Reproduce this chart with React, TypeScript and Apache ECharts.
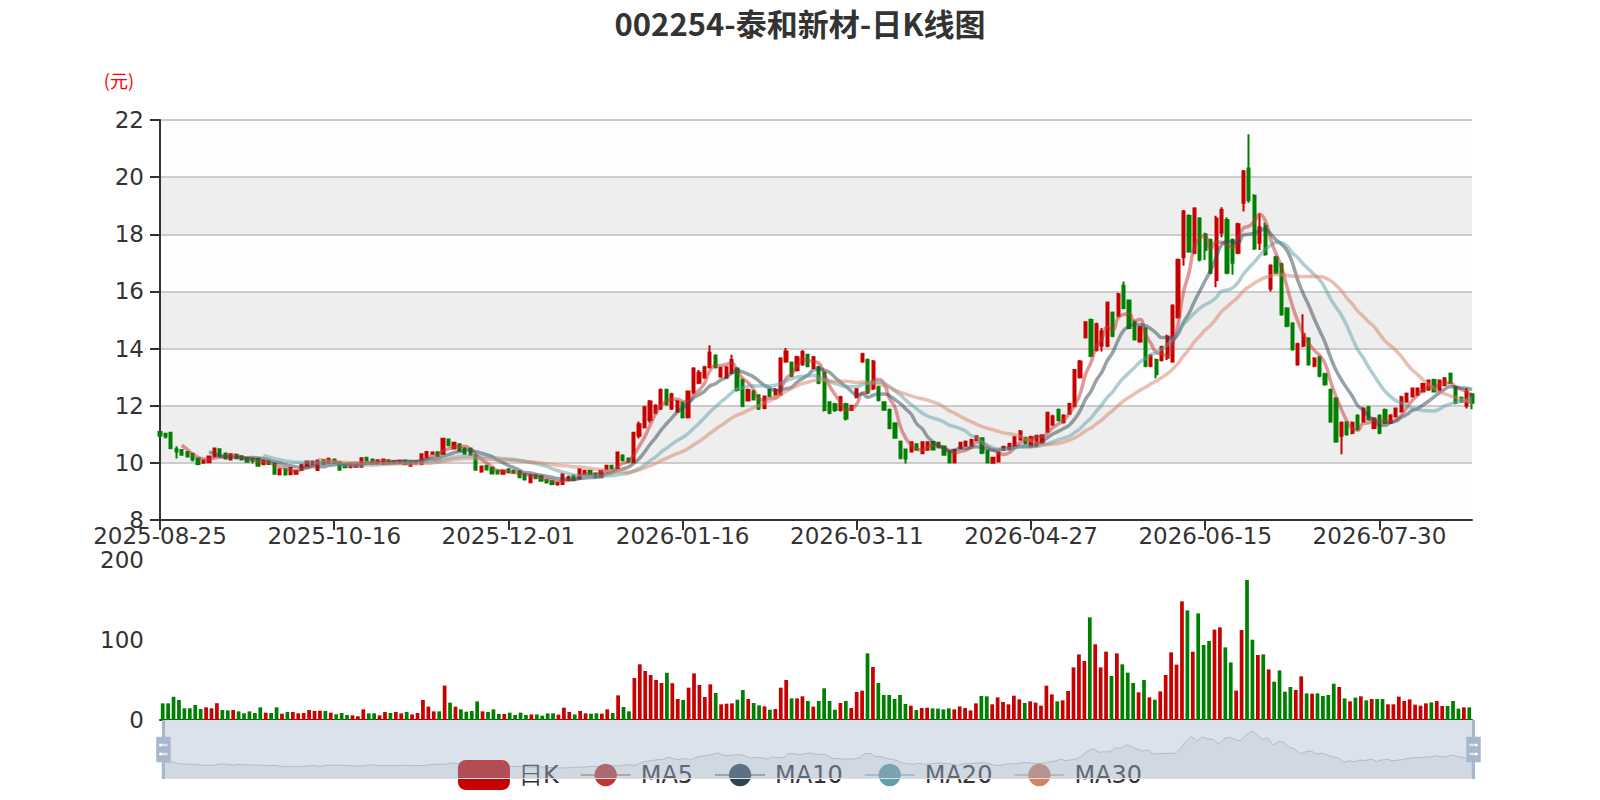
import React, { useEffect, useRef } from 'react';
import * as echarts from 'echarts';

// Trading-day calendar (weekdays minus exchange holidays)
const startDate = '2025-08-25';
const endDate = '2026-08-24';
const holidays = [
  '2025-10-01', '2025-10-02', '2025-10-03', '2025-10-06', '2025-10-07', '2025-10-08',
  '2026-01-01', '2026-01-02',
  '2026-02-16', '2026-02-17', '2026-02-18', '2026-02-19', '2026-02-20', '2026-02-23',
  '2026-04-06',
  '2026-05-01', '2026-05-04', '2026-05-05',
  '2026-06-19',
];

function buildCategories(start: string, end: string, skip: string[]): string[] {
  const out: string[] = [];
  const d = new Date(start + 'T00:00:00Z');
  const last = new Date(end + 'T00:00:00Z');
  while (d.getTime() <= last.getTime()) {
    const wd = d.getUTCDay();
    const s = d.toISOString().slice(0, 10);
    if (wd !== 0 && wd !== 6 && skip.indexOf(s) < 0) out.push(s);
    d.setUTCDate(d.getUTCDate() + 1);
  }
  return out;
}

const categories = buildCategories(startDate, endDate, holidays);

// [open, close, low, high]
const ohlc: number[][] = [
  [11.08, 10.96, 10.9, 11.1], [11.02, 10.92, 10.85, 11.05], [11.05, 10.52, 10.48, 11.08], [10.48, 10.4, 10.15, 10.58],
  [10.45, 10.28, 10.25, 10.47], [10.38, 10.22, 10.2, 10.4], [10.32, 10.12, 10.05, 10.35], [10.15, 9.96, 9.92, 10.18],
  [10.0, 10.08, 9.98, 10.1], [10.02, 10.22, 10.0, 10.25], [10.22, 10.5, 10.2, 10.52], [10.48, 10.22, 10.2, 10.5],
  [10.33, 10.15, 10.12, 10.36], [10.12, 10.3, 10.1, 10.32], [10.28, 10.16, 10.14, 10.3], [10.23, 10.12, 10.1, 10.25],
  [10.16, 10.04, 10.0, 10.18], [10.14, 10.07, 9.98, 10.16], [10.14, 9.9, 9.88, 10.16], [9.95, 10.08, 9.93, 10.1],
  [10.05, 9.96, 9.94, 10.08], [9.98, 9.62, 9.58, 10.0], [9.6, 9.78, 9.56, 9.8], [9.78, 9.6, 9.55, 9.8],
  [9.6, 9.82, 9.58, 9.85], [9.62, 9.72, 9.58, 9.75], [9.75, 9.93, 9.73, 9.95], [9.9, 10.05, 9.88, 10.08],
  [9.96, 10.05, 9.94, 10.07], [9.75, 10.08, 9.72, 10.1], [10.1, 9.96, 9.94, 10.12], [10.0, 10.14, 9.98, 10.16],
  [10.12, 10.0, 9.98, 10.14], [10.02, 9.76, 9.74, 10.04], [9.93, 9.85, 9.83, 9.95], [9.85, 9.93, 9.83, 9.95],
  [9.86, 9.94, 9.84, 9.96], [9.86, 10.16, 9.84, 10.18], [10.18, 10.08, 10.05, 10.2], [10.12, 9.98, 9.96, 10.14],
  [9.98, 10.09, 9.96, 10.1], [9.96, 10.12, 9.94, 10.14], [10.09, 9.98, 9.96, 10.1], [9.98, 10.06, 9.96, 10.08],
  [9.99, 10.07, 9.97, 10.08], [10.08, 9.96, 9.94, 10.1], [9.9, 10.05, 9.88, 10.06], [9.98, 10.06, 9.96, 10.08],
  [9.96, 10.3, 9.94, 10.32], [10.2, 10.38, 10.18, 10.4], [10.32, 10.36, 10.3, 10.4], [10.37, 10.25, 10.22, 10.4],
  [10.32, 10.84, 10.3, 10.88], [10.82, 10.62, 10.58, 10.85], [10.5, 10.7, 10.48, 10.72], [10.65, 10.42, 10.4, 10.68],
  [10.5, 10.32, 10.3, 10.55], [10.5, 10.28, 10.25, 10.52], [10.27, 9.76, 9.72, 10.3], [9.7, 9.87, 9.65, 9.9],
  [9.9, 9.77, 9.75, 9.92], [9.83, 9.63, 9.6, 9.85], [9.72, 9.63, 9.6, 9.74], [9.62, 9.72, 9.6, 9.74],
  [9.78, 9.67, 9.65, 9.8], [9.72, 9.66, 9.62, 9.74], [9.7, 9.5, 9.47, 9.72], [9.6, 9.42, 9.38, 9.62],
  [9.32, 9.57, 9.3, 9.6], [9.57, 9.46, 9.44, 9.6], [9.53, 9.37, 9.34, 9.55], [9.4, 9.31, 9.28, 9.42],
  [9.36, 9.26, 9.22, 9.38], [9.25, 9.3, 9.2, 9.32], [9.26, 9.6, 9.24, 9.62], [9.4, 9.5, 9.38, 9.56],
  [9.55, 9.4, 9.38, 9.58], [9.45, 9.78, 9.43, 9.8], [9.6, 9.72, 9.58, 9.75], [9.72, 9.6, 9.58, 9.75],
  [9.63, 9.5, 9.47, 9.65], [9.5, 9.72, 9.48, 9.75], [9.78, 9.9, 9.75, 9.92], [9.9, 9.8, 9.77, 9.92],
  [9.82, 10.36, 9.8, 10.38], [10.25, 10.1, 10.05, 10.3], [10.15, 10.04, 10.0, 10.18], [10.02, 11.05, 10.0, 11.06],
  [10.95, 11.35, 10.85, 11.45], [11.25, 11.95, 11.2, 12.0], [11.5, 12.15, 11.4, 12.2], [11.75, 12.0, 11.7, 12.05],
  [11.9, 12.55, 11.85, 12.6], [12.55, 12.05, 12.0, 12.6], [11.9, 12.4, 11.85, 12.45], [11.8, 12.15, 11.75, 12.2],
  [12.1, 11.6, 11.55, 12.15], [11.6, 12.5, 11.55, 12.52], [12.46, 13.3, 12.4, 13.35], [12.8, 13.15, 12.75, 13.25],
  [12.98, 13.35, 12.95, 13.4], [13.35, 13.85, 13.3, 14.12], [13.75, 13.35, 13.3, 13.8], [13.02, 13.32, 12.98, 13.36],
  [12.98, 13.35, 12.95, 13.38], [13.15, 13.6, 13.1, 13.78], [13.3, 12.55, 12.5, 13.35], [12.9, 12.0, 11.95, 12.95],
  [12.18, 12.55, 12.15, 12.6], [12.5, 12.22, 12.2, 12.55], [12.37, 11.9, 11.85, 12.4], [11.92, 12.32, 11.88, 12.35],
  [12.55, 12.35, 12.3, 12.6], [12.4, 12.55, 12.35, 12.62], [12.4, 13.65, 12.35, 13.7], [13.55, 13.9, 13.5, 14.02],
  [13.5, 13.05, 13.0, 13.55], [13.25, 13.7, 13.2, 13.75], [13.45, 13.88, 13.4, 13.95], [13.78, 13.38, 13.35, 13.82],
  [13.32, 13.7, 13.3, 13.74], [13.35, 12.8, 12.75, 13.4], [13.15, 11.85, 11.8, 13.2], [12.12, 11.75, 11.7, 12.15],
  [12.05, 11.85, 11.78, 12.1], [11.85, 12.3, 11.8, 12.35], [12.05, 11.55, 11.48, 12.1], [11.85, 12.0, 11.82, 12.03],
  [12.3, 12.58, 12.28, 12.62], [13.55, 13.8, 13.5, 13.85], [13.6, 12.45, 12.4, 13.65], [12.6, 13.55, 12.55, 13.6],
  [12.65, 12.2, 12.15, 12.7], [12.12, 11.86, 11.82, 12.16], [11.85, 11.22, 11.18, 11.9], [11.38, 10.88, 10.84, 11.42],
  [10.74, 10.18, 10.12, 10.78], [10.47, 10.15, 9.98, 10.5], [10.4, 10.72, 10.36, 10.76], [10.65, 10.46, 10.42, 10.68],
  [10.34, 10.72, 10.3, 10.76], [10.46, 10.72, 10.42, 10.76], [10.73, 10.47, 10.44, 10.76], [10.7, 10.55, 10.5, 10.73],
  [10.57, 10.28, 10.25, 10.6], [10.4, 10.02, 9.98, 10.42], [10.02, 10.45, 9.98, 10.48], [10.52, 10.7, 10.5, 10.74],
  [10.6, 10.74, 10.58, 10.78], [10.62, 10.8, 10.6, 10.84], [10.8, 10.93, 10.78, 10.96], [10.86, 10.35, 10.3, 10.9],
  [10.42, 10.02, 9.98, 10.45], [10.0, 10.18, 9.97, 10.2], [10.05, 10.35, 10.02, 10.38], [10.45, 10.56, 10.42, 10.6],
  [10.48, 10.66, 10.45, 10.7], [10.6, 10.9, 10.56, 10.95], [10.82, 11.1, 10.78, 11.15], [10.88, 10.68, 10.64, 10.9],
  [10.6, 10.9, 10.55, 10.95], [10.6, 10.95, 10.55, 10.98], [10.7, 10.96, 10.66, 11.0], [11.1, 11.75, 11.05, 11.78],
  [11.33, 11.62, 11.3, 11.68], [11.85, 11.5, 11.45, 11.9], [11.42, 11.65, 11.38, 11.7], [11.72, 12.06, 11.68, 12.1],
  [11.98, 13.25, 11.95, 13.28], [13.0, 13.55, 12.95, 13.6], [14.4, 14.92, 14.35, 14.95], [15.0, 13.75, 13.7, 15.05],
  [13.95, 14.85, 13.9, 14.9], [14.1, 14.6, 13.9, 14.72], [14.1, 15.6, 14.05, 15.65], [15.25, 14.45, 14.4, 15.3],
  [15.15, 15.9, 15.1, 15.95], [16.2, 15.42, 15.38, 16.35], [15.68, 14.72, 14.68, 15.72], [14.94, 14.32, 14.28, 14.98],
  [14.25, 14.75, 14.2, 14.8], [14.7, 13.4, 13.35, 14.75], [13.4, 13.75, 13.35, 13.8], [13.6, 13.1, 12.96, 13.65],
  [13.6, 14.05, 13.55, 14.1], [13.68, 14.42, 13.6, 14.48], [13.55, 15.5, 13.5, 15.55], [15.1, 17.1, 15.05, 17.15],
  [17.2, 18.8, 16.9, 18.85], [18.64, 17.4, 17.35, 18.7], [17.35, 18.9, 17.3, 18.95], [18.55, 17.12, 17.05, 18.6],
  [18.0, 17.45, 17.1, 18.05], [17.8, 16.65, 16.6, 17.85], [16.4, 18.55, 16.15, 18.65], [18.05, 18.85, 17.9, 18.95],
  [18.5, 16.65, 16.6, 18.6], [17.8, 17.0, 16.58, 17.85], [17.35, 18.35, 17.3, 18.4], [19.1, 20.2, 18.8, 20.25],
  [20.3, 19.2, 19.1, 21.5], [19.35, 17.5, 17.45, 19.4], [17.7, 18.25, 17.45, 18.73], [18.3, 17.3, 17.25, 18.4],
  [16.1, 16.9, 16.0, 16.95], [17.2, 16.65, 16.6, 17.25], [16.95, 15.2, 15.15, 17.0], [15.4, 14.8, 14.75, 15.45],
  [14.88, 13.98, 13.92, 14.92], [13.45, 14.15, 13.4, 14.2], [14.1, 14.5, 14.05, 15.2], [14.35, 13.45, 13.4, 14.4],
  [13.4, 13.65, 13.35, 13.7], [13.7, 13.05, 13.0, 13.75], [13.1, 12.75, 12.7, 13.15], [12.55, 11.45, 11.4, 12.6],
  [12.25, 10.75, 10.7, 12.3], [10.95, 11.4, 10.3, 11.45], [11.42, 11.0, 10.95, 11.45], [11.05, 11.4, 11.0, 11.45],
  [11.65, 11.18, 11.12, 11.7], [11.45, 11.9, 11.4, 11.95], [11.95, 11.52, 11.48, 12.0], [11.22, 11.55, 11.18, 11.6],
  [11.65, 11.05, 11.0, 11.7], [11.85, 11.4, 11.35, 11.9], [11.4, 11.66, 11.36, 11.7], [11.62, 11.9, 11.6, 11.93],
  [11.8, 12.3, 11.76, 12.35], [12.15, 12.42, 12.1, 12.46], [12.32, 12.6, 12.3, 12.64], [12.38, 12.6, 12.35, 12.64],
  [12.5, 12.76, 12.46, 12.8], [12.56, 12.88, 12.52, 12.92], [12.9, 12.5, 12.46, 12.94], [12.55, 12.88, 12.5, 12.92],
  [12.72, 12.96, 12.7, 13.0], [13.12, 12.8, 12.76, 13.16], [12.66, 12.1, 12.05, 12.7], [12.28, 12.14, 12.1, 12.32],
  [12.0, 12.5, 11.9, 12.62], [12.4, 12.1, 11.88, 12.45],
];

const volumes: number[] = [
  20.8, 20.8, 29, 25, 14.6, 14.6, 18.75, 13.75, 15.8, 14.6, 21, 12.5, 12, 12.5, 10.8, 8.3, 10.8, 8.75, 15.8, 9.2,
  8.75, 15.8, 7.9, 10, 10, 8.3, 8.75, 12.5, 11.25, 11.7, 11.25, 9.2, 7.1, 8.75, 6.25, 5.8, 4.6, 13.3, 8.3, 8.3,
  5.8, 10, 8.75, 10, 8.3, 10, 7, 8.75, 25, 16.7, 10.8, 10.8, 43, 21.7, 16.7, 13.3, 10.4, 11.25, 23.3, 10.8,
  10, 13.3, 7.5, 7.5, 9.2, 6.25, 9.2, 6.25, 7, 7, 5.4, 8.3, 8.3, 6.7, 15.4, 10, 7, 11.25, 8.3, 7.9,
  8.3, 7.9, 13.3, 8.75, 30.8, 16.25, 10.8, 52.5, 69.6, 61.25, 56.25, 50, 46.25, 59, 46, 26.25, 25, 40.4, 58.3, 43.75,
  28.75, 44.6, 33.75, 19.6, 20.4, 20.8, 25.4, 37.5, 26.25, 21.25, 18.3, 17, 12.9, 13.75, 40.4, 50, 27, 27, 29.6, 23.75,
  16.7, 23.75, 39.6, 23.75, 12.9, 21.25, 23.75, 15, 35, 36.7, 83.3, 66.25, 46.25, 31.25, 31.25, 26.25, 31.25, 20, 17.9, 12.5,
  15, 15.4, 14.6, 14.2, 13.3, 14.6, 13.3, 17, 15, 12, 20.8, 30, 29.6, 19.6, 28.3, 22.5, 19.6, 30.4, 25.8, 21.25,
  23.3, 21.7, 17.9, 42.9, 32, 23.3, 24.6, 36.25, 65.8, 82, 73.75, 128.3, 94.6, 65.8, 85.4, 55, 83.3, 69.6, 59.2, 46.25,
  34.6, 50, 28.3, 25.4, 35.8, 56.25, 84.6, 69.2, 148.3, 137, 85.4, 133.3, 93.75, 98.75, 113, 115.8, 90.8, 72, 36.7, 112.5,
  175, 100.4, 81.25, 82, 63.3, 47.9, 62, 35.4, 41.25, 37.5, 54.6, 33.3, 32.9, 33.3, 30, 31.25, 45.4, 41.25, 27, 23.3,
  28, 29.6, 24.6, 26.25, 26.25, 26.25, 19.6, 19.6, 29.2, 23.75, 25.8, 19.2, 17.9, 20.8, 22, 23.75, 17.5, 17.5, 23.75, 14.2,
  15.8, 15.8,
];

const maPeriods = [5, 10, 20, 30];
const maColors = ['#c23531', '#2f4554', '#61a0a8', '#d48265'];
const legendNames = ['日K', 'MA5', 'MA10', 'MA20', 'MA30'];

const UP = '#c80000';
const DOWN = '#008000';
const LABEL_FONT = 'DejaVu Sans';

function movingAverage(n: number): (number | string)[] {
  const out: (number | string)[] = [];
  for (let i = 0; i < ohlc.length; i++) {
    if (i < n - 1) {
      out.push('-');
      continue;
    }
    let s = 0;
    for (let j = 0; j < n; j++) s += ohlc[i - j][1];
    out.push(+(s / n).toFixed(3));
  }
  return out;
}

const HANDLE =
  'path://M8.2,13.6V3.9H6.3v9.7H3.1v14.9h3.3v9.7h1.8v-9.7h3.3V13.6H8.2z M9.7,24.4H4.8v-1.4h4.9V24.4z M9.7,19.1H4.8v-1.4h4.9V19.1z';

export default function App() {
  const ref = useRef<HTMLDivElement>(null);
  useEffect(() => {
    if (!ref.current) return;
    const chart = echarts.init(ref.current, undefined, { renderer: 'svg' });
    const axisLineStyle = { color: '#333', width: 2 };
    const option: any = {
      animation: false,
      backgroundColor: '#ffffff',
      textStyle: { fontFamily: LABEL_FONT },
      title: {
        text: '002254-泰和新材-日K线图',
        left: 'center',
        top: 7,
        padding: 0,
        textStyle: { fontSize: 31, fontWeight: 'bold', color: '#333', fontFamily: 'Noto Sans CJK SC' },
      },
      legend: {
        data: legendNames,
        left: 'center',
        bottom: 0,
        padding: 10,
        itemGap: 21,
        itemWidth: 50,
        itemHeight: 28,
        z: 1,
        textStyle: { fontSize: 24, color: '#333', fontFamily: LABEL_FONT, padding: [0, 0, 0, 5] },
      },
      grid: [
        { left: '10%', right: '8%', top: '15%', height: '50%' },
        { left: '10%', right: '8%', top: '70%', height: '20%' },
      ],
      xAxis: [
        {
          type: 'category',
          data: categories,
          boundaryGap: false,
          axisLine: { lineStyle: axisLineStyle },
          axisTick: { length: 10, interval: 31, lineStyle: axisLineStyle },
          axisLabel: { interval: 31, fontSize: 23, color: '#333', margin: 4 },
          splitLine: { show: false },
        },
        {
          type: 'category',
          gridIndex: 1,
          data: categories,
          boundaryGap: true,
          axisLine: { lineStyle: axisLineStyle },
          axisTick: { show: false },
          axisLabel: { show: false },
          splitLine: { show: false },
        },
      ],
      yAxis: [
        {
          type: 'value',
          min: 8,
          max: 22,
          interval: 2,
          name: '(元)',
          nameGap: 31,
          nameTextStyle: { color: 'red', fontSize: 18, align: 'right', padding: [0, 26, 0, 0], fontFamily: 'Noto Sans CJK SC' },
          axisLine: { show: true, lineStyle: axisLineStyle },
          axisTick: { show: true, length: 10, lineStyle: axisLineStyle },
          axisLabel: { fontSize: 23, color: '#333', margin: 16 },
          splitLine: { show: true, lineStyle: { color: '#ccc', width: 2 } },
          splitArea: { show: true, areaStyle: { color: ['rgba(250,250,250,0.3)', 'rgba(200,200,200,0.3)'] } },
        },
        {
          type: 'value',
          gridIndex: 1,
          min: 0,
          max: 200,
          interval: 100,
          axisLine: { show: false },
          axisTick: { show: false },
          splitLine: { show: false },
          axisLabel: { fontSize: 23, color: '#333', margin: 16 },
        },
      ],
      dataZoom: [
        { type: 'inside', xAxisIndex: [0, 1], start: 0, end: 100 },
        {
          type: 'slider',
          xAxisIndex: [0, 1],
          start: 0,
          end: 100,
          top: 720,
          height: 59,
          z: 6,
          showDetail: false,
          brushSelect: false,
          moveHandleSize: 0,
          backgroundColor: 'rgba(47,69,84,0)',
          borderColor: '#ddd',
          fillerColor: 'rgba(167,183,204,0.4)',
          handleIcon: HANDLE,
          handleSize: '100%',
          handleStyle: { color: '#a7b7cc', borderWidth: 0 },
          dataBackground: {
            lineStyle: { color: '#2f4554', width: 1, opacity: 0.3 },
            areaStyle: { color: 'rgba(47,69,84,0.3)', opacity: 0.3 },
          },
          selectedDataBackground: {
            lineStyle: { color: '#2f4554', width: 1, opacity: 0.3 },
            areaStyle: { color: 'rgba(47,69,84,0.3)', opacity: 0.3 },
          },
        },
      ],
      series: [
        {
          name: '日K',
          type: 'candlestick',
          data: ohlc,
          itemStyle: { color: UP, color0: DOWN, borderColor: UP, borderColor0: DOWN, borderWidth: 2 },
        },
        ...maPeriods.map((p, k) => ({
          name: 'MA' + p,
          type: 'line',
          data: movingAverage(p),
          smooth: true,
          showSymbol: false,
          symbol: 'circle',
          itemStyle: { color: maColors[k] },
          lineStyle: { width: 3.5, opacity: 0.5, color: maColors[k] },
        })),
        {
          name: 'Volume',
          type: 'bar',
          xAxisIndex: 1,
          yAxisIndex: 1,
          data: volumes.map((v, i) => ({
            value: v,
            itemStyle: { color: ohlc[i][1] >= ohlc[i][0] ? UP : DOWN },
          })),
        },
      ],
    };
    chart.setOption(option);
    return () => chart.dispose();
  }, []);
  return (
    <div
      ref={ref}
      style={{ position: 'fixed', left: 0, top: 0, width: 1600, height: 800, background: '#fff' }}
    />
  );
}
